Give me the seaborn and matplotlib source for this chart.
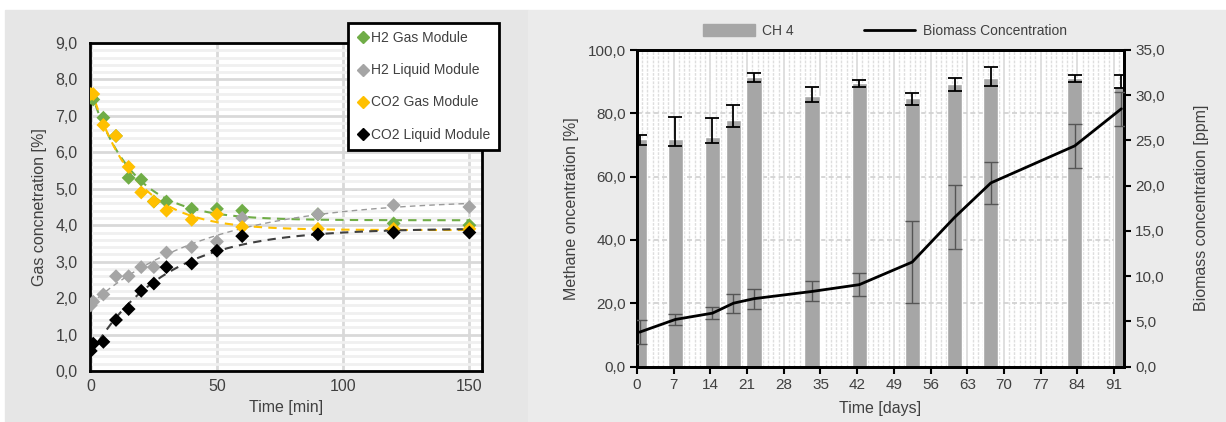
import numpy as np
import pandas as pd
import seaborn as sns
import matplotlib.pyplot as plt
from matplotlib.lines import Line2D
from matplotlib.patches import Patch, Rectangle
from matplotlib.ticker import FuncFormatter, MultipleLocator

# -------------------------------
# Data
# -------------------------------
time_min = [0, 1, 5, 10, 15, 20, 25, 30, 40, 50, 60, 90, 120, 150]
h2_gas = [7.5, 7.45, 6.95, 6.45, 5.3, 5.25, 4.65, 4.65, 4.45, 4.45, 4.4, 4.3, 4.05, 4.0]
h2_liquid = [1.8, 1.9, 2.1, 2.6, 2.6, 2.85, 2.85, 3.25, 3.4, 3.55, 4.2, 4.3, 4.55, 4.5]
co2_gas = [7.6, 7.6, 6.75, 6.45, 5.6, 4.9, 4.65, 4.4, 4.15, 4.3, 3.95, 3.9, 3.9, 3.9]
co2_liquid = [0.55, 0.75, 0.8, 1.4, 1.7, 2.2, 2.4, 2.85, 2.95, 3.3, 3.7, 3.75, 3.8, 3.8]

series_names = ["H2 Gas Module", "H2 Liquid Module", "CO2 Gas Module", "CO2 Liquid Module"]

days = [0.5, 7.3, 14.4, 18.4, 22.3, 33.4, 42.4, 52.5, 60.6, 67.5, 83.5, 92.4]
ch4 = [72.0, 72.0, 72.5, 78.0, 91.5, 85.5, 89.5, 84.8, 89.2, 91.0, 91.3, 88.5]
ch4_err_low = [2.0, 2.3, 2.0, 2.3, 1.6, 2.0, 1.2, 2.2, 2.2, 2.4, 1.5, 0.5]
ch4_err_high = [1.2, 6.8, 5.9, 4.6, 1.1, 2.8, 1.0, 1.7, 2.0, 3.6, 0.7, 3.5]
biomass = [3.8, 5.2, 5.9, 7.0, 7.5, 8.3, 9.05, 11.55, 16.5, 20.3, 24.4, 28.5]
biomass_err = [1.35, 0.65, 0.7, 1.05, 1.1, 1.1, 1.25, 4.5, 3.55, 2.35, 2.45, 1.9]

day_ticks = [0, 7, 14, 21, 28, 35, 42, 49, 56, 63, 70, 77, 84, 91]

# -------------------------------
# Style
# -------------------------------
GREEN, GRAY, ORANGE, BLACK = "#70ad47", "#a5a5a5", "#ffc000", "#000000"
BAR_GRAY = "#a6a6a6"
FONT = ["Liberation Sans", "DejaVu Sans"]

sns.set_theme(style="white")
plt.rcParams["font.family"] = FONT
plt.rcParams["text.color"] = "#404040"
plt.rcParams["axes.labelcolor"] = "#404040"
plt.rcParams["xtick.color"] = "#404040"
plt.rcParams["ytick.color"] = "#404040"

comma = FuncFormatter(lambda v, p: f"{v:.1f}".replace(".", ","))


def exp_fit(t, y, t_end=150):
    """Fit y = a + b*exp(-k t) (like an Excel trend line)."""
    t = np.asarray(t, float)
    y = np.asarray(y, float)
    best = None
    for k in np.linspace(0.005, 0.3, 600):
        A = np.column_stack([np.ones_like(t), np.exp(-k * t)])
        coef = np.linalg.lstsq(A, y, rcond=None)[0]
        err = np.sum((A @ coef - y) ** 2)
        if best is None or err < best[0]:
            best = (err, k, coef)
    _, k, (a, b) = best
    tt = np.linspace(0, t_end, 300)
    return tt, a + b * np.exp(-k * tt)


fig = plt.figure(figsize=(12.26, 4.22), dpi=100)
fig.patch.set_facecolor("white")
fig.patches.append(Rectangle((5 / 1226, 0), 523 / 1226, 412 / 422,
                             transform=fig.transFigure, color="#e6e6e6", zorder=-10))
fig.patches.append(Rectangle((528 / 1226, 0), 698 / 1226, 412 / 422,
                             transform=fig.transFigure, color="#ebebeb", zorder=-10))

# -------------------------------
# Left panel: gas concentrations
# -------------------------------
ax = fig.add_axes([90 / 1226, 51 / 422, 392 / 1226, 328 / 422])
ax.set_facecolor("white")

df = pd.DataFrame({"Time": time_min * 4,
                   "Value": h2_gas + h2_liquid + co2_gas + co2_liquid,
                   "Series": np.repeat(series_names, len(time_min))})
colors = [GREEN, GRAY, ORANGE, BLACK]
trend_styles = [(GREEN, 1.5), ("#9a9a9a", 1.0), (ORANGE, 1.5), ("#404040", 1.5)]

for i, name in enumerate(series_names):
    sub = df[df["Series"] == name]
    tt, yy = exp_fit(sub["Time"], sub["Value"])
    col, lw = trend_styles[i]
    ax.plot(tt, yy, ls=(0, (4, 3)), color=col, lw=lw, zorder=3 + i)

for i, name in enumerate(series_names):
    sub = df[df["Series"] == name]
    sns.scatterplot(data=sub, x="Time", y="Value", marker="D", s=50, color=colors[i],
                    edgecolor="none", ax=ax, zorder=10 + i, legend=False)

ax.set_xlim(-0.3, 155)
ax.set_ylim(0, 9)
ax.yaxis.set_major_locator(MultipleLocator(1))
ax.yaxis.set_minor_locator(MultipleLocator(0.2))
ax.xaxis.set_major_locator(MultipleLocator(50))
ax.yaxis.set_major_formatter(comma)
ax.grid(which="major", axis="both", color="#d9d9d9", lw=2)
ax.grid(which="minor", axis="y", color="#f0f0f0", lw=2)
ax.set_axisbelow(True)
for s in ax.spines.values():
    s.set_color("black")
    s.set_linewidth(2)
ax.tick_params(which="both", length=0, labelsize=11.5)
ax.tick_params(axis="y", pad=9)
ax.tick_params(axis="x", pad=6)
ax.set_xlabel("Time [min]", fontsize=11.5)
ax.set_ylabel("Gas concnetration [%]", fontsize=11.5)
ax.xaxis.set_label_coords(0.5, -0.088)
ax.yaxis.set_label_coords(-0.11, 0.5)

handles = [Line2D([], [], marker="D", ls="none", color=c, markersize=6.5) for c in colors]
leg = fig.legend(handles, series_names, loc="upper left",
                 bbox_to_anchor=(348 / 1226, 1 - 23 / 422), fontsize=10,
                 labelspacing=1.3, borderpad=0.6, handletextpad=0.05,
                 handlelength=1.0, fancybox=False, framealpha=1, borderaxespad=0)
leg.get_frame().set_edgecolor("black")
leg.get_frame().set_linewidth(2)

# -------------------------------
# Right panel: CH4 and biomass
# -------------------------------
axr = fig.add_axes([637 / 1226, 55.5 / 422, 487 / 1226, 316.5 / 422])
axr.set_facecolor("white")
axr.bar(days, ch4, width=2.9, color=BAR_GRAY, zorder=2)
axr.errorbar(days, ch4, yerr=[ch4_err_low, ch4_err_high], fmt="none", ecolor="black",
             elinewidth=1.3, capsize=5, capthick=1.3, zorder=3)
axr.set_xlim(0, 92.9)
axr.set_ylim(0, 100)
axr.set_xticks(day_ticks)
axr.xaxis.set_minor_locator(MultipleLocator(1))
axr.yaxis.set_major_locator(MultipleLocator(20))
axr.yaxis.set_major_formatter(comma)
axr.grid(which="major", axis="x", color="#d9d9d9", lw=1.2)
axr.grid(which="minor", axis="x", color="#dedede", lw=1.0, ls=(0, (2, 1)))
axr.grid(which="major", axis="y", color="#d0d0d0", lw=1.2, ls=(0, (3, 2)))
axr.set_axisbelow(True)

axb = axr.twinx()
axb.errorbar(days, biomass, yerr=biomass_err, fmt="none", ecolor="#555555",
             elinewidth=1.0, capsize=5, capthick=1.0, zorder=3)
sns.lineplot(x=days, y=biomass, color="black", lw=2, ax=axb, zorder=4)
axb.set_ylim(0, 35)
axb.yaxis.set_major_locator(MultipleLocator(5))
axb.yaxis.set_major_formatter(comma)

for a in (axr, axb):
    for s in a.spines.values():
        s.set_color("black")
        s.set_linewidth(2)
    a.tick_params(which="major", length=5, width=1.5, color="black",
                  direction="out", labelsize=11, pad=3)
    a.tick_params(which="minor", length=0)
axb.tick_params(axis="y", left=False, right=True)
axr.tick_params(axis="y", left=True, right=False)
axr.tick_params(axis="x", bottom=True)

axr.set_xlabel("Time [days]", fontsize=11.5)
axr.set_ylabel("Methane oncentration [%]", fontsize=11.5)
axb.set_ylabel("Biomass concentration [ppm]", fontsize=11.5)
axr.xaxis.set_label_coords(0.5, -0.11)
axr.yaxis.set_label_coords(-0.12, 0.5)
axb.yaxis.set_label_coords(1.144, 0.5)

leg2 = fig.legend([Patch(color=BAR_GRAY), Line2D([], [], color="black", lw=2)],
                  ["CH 4", "Biomass Concentration"], loc="center",
                  bbox_to_anchor=(885 / 1226, 1 - 31 / 422), ncol=2, frameon=False,
                  fontsize=10, handlelength=3.7, handleheight=0.9,
                  handletextpad=0.55, columnspacing=5.0)

fig.savefig("out.png", dpi=100)
